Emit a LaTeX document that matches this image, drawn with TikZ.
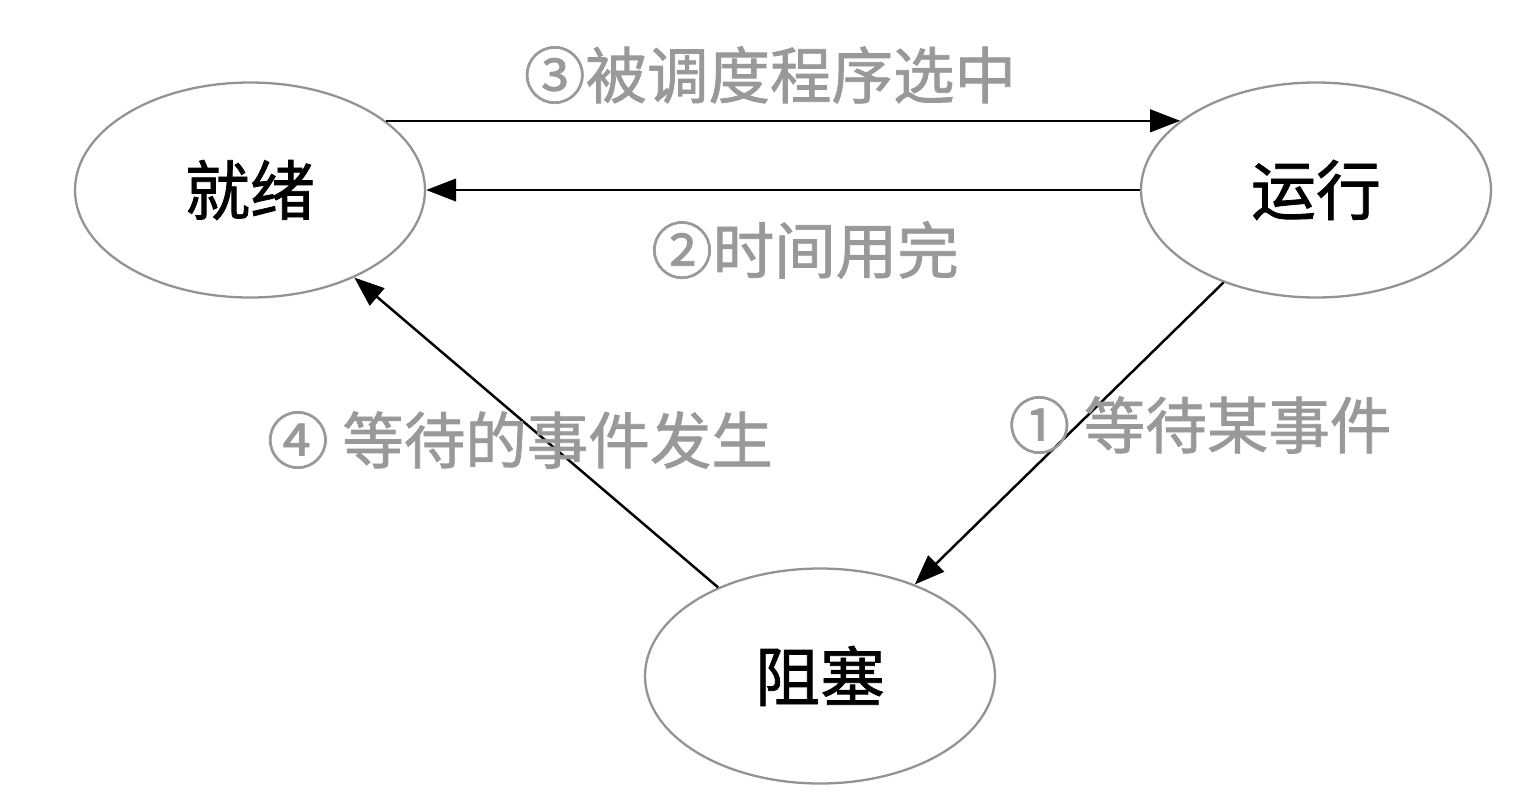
\documentclass[tikz,border=0pt]{standalone}
\usepackage{fontspec}
\newfontfamily\cjk[FakeBold=1.2]{Noto Sans CJK SC}
\usetikzlibrary{shapes,arrows.meta,positioning,calc}

\begin{document}
\begin{tikzpicture}
  % Estilos
  \tikzstyle{state}=[ellipse, draw=gray!85, line width=1.3pt, minimum width=7cm, minimum height=4.3cm, font=\cjk\fontsize{37}{42}\selectfont, inner sep=0pt]
  \tikzstyle{trans}=[-{Triangle[length=0.6cm,width=0.45cm]}, line width=1.4pt]
  \tikzstyle{lbl}=[font=\cjk\fontsize{35}{40}\selectfont, text=gray!80, inner sep=0pt]

  \useasboundingbox (0,0) rectangle (30.7,-16.18);

  % Estados
  \node[state] (ready) at (5.0,-3.8) {就绪};
  \node[state] (run) at (26.32,-3.8) {运行};
  \node[state] (block) at (16.4,-13.52) {阻塞};

  % Transiciones
  \draw[trans] (ready.27) -- (run.153.4);
  \draw[trans] (run.west) -- (ready.east);
  \draw[trans] (run.225.6) -- (block.44.4);
  \draw[trans] (block.139) -- (ready.-40);

  % Etiquetas
  \node[lbl] (l3) at (15.4,-1.5) {③被调度程序选中};
  \node[lbl] (l2) at (16.1,-5.0) {②时间用完};
  \node[lbl] (l1) at (24.0,-8.5) {① 等待某事件};
  \node[lbl] (l4) at (10.4,-8.8) {④ 等待的事件发生};
\end{tikzpicture}
\end{document}
